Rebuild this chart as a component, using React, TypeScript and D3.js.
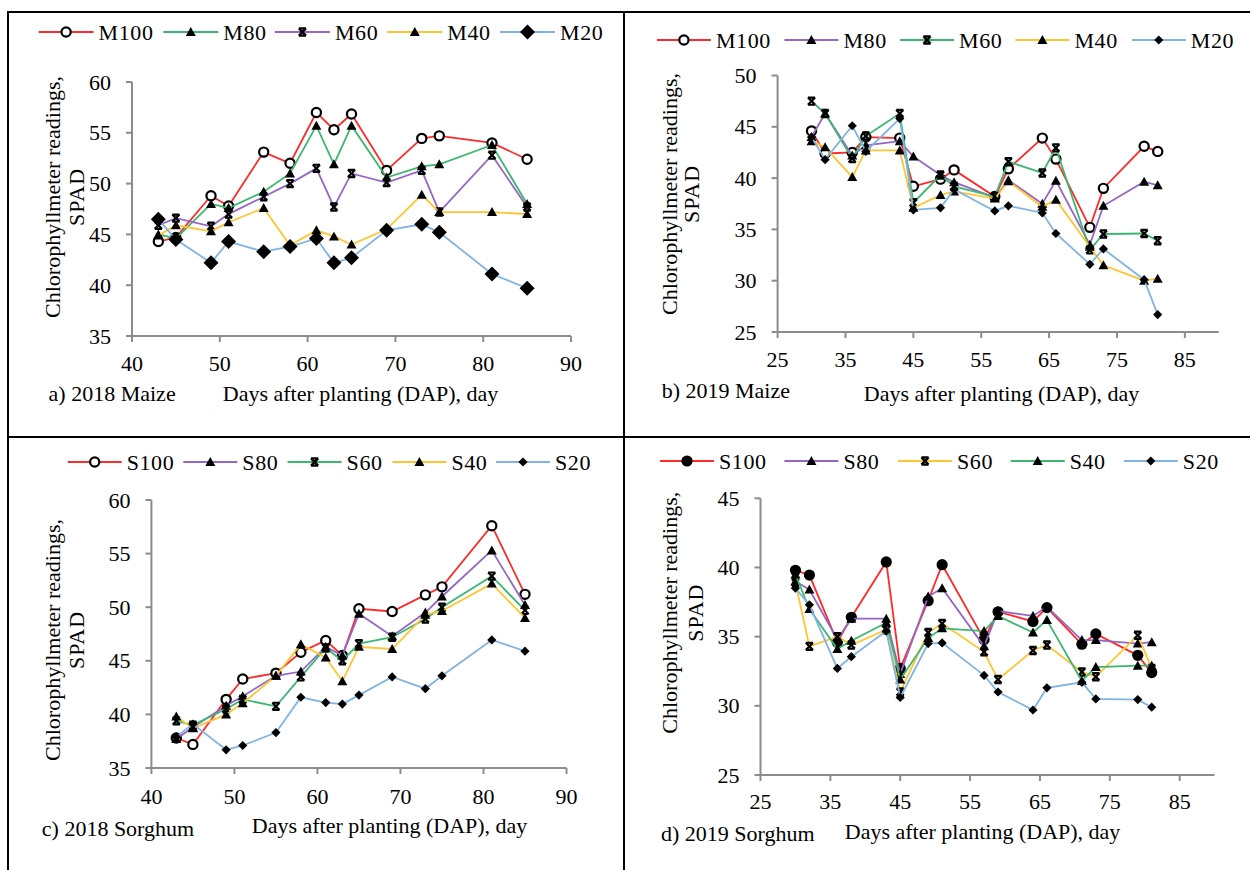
import React from "react";
import * as d3 from "d3";

// ---------- DATA ----------
const daysMaize2018 = [43, 45, 49, 51, 55, 58, 61, 63, 65, 69, 73, 75, 81, 85];
const M100_2018 = [44.3, 44.7, 48.8, 47.8, 53.1, 52.0, 57.0, 55.3, 56.85, 51.3, 54.45, 54.7, 54.0, 52.4];
const M80_2018 = [45.0, 44.6, 48.0, 47.6, 49.2, 51.0, 55.7, 51.9, 55.7, 50.6, 51.7, 51.9, 53.8, 48.0];
const M60_2018 = [45.9, 46.6, 45.8, 47.0, 48.7, 50.0, 51.5, 47.7, 51.0, 50.1, 51.3, 47.2, 52.8, 47.7];
const M40_2018 = [44.9, 45.9, 45.3, 46.2, 47.6, 43.9, 45.4, 44.8, 44.0, 45.5, 48.9, 47.2, 47.2, 47.0];
const M20_2018 = [46.5, 44.5, 42.2, 44.3, 43.3, 43.8, 44.6, 42.2, 42.7, 45.4, 46.0, 45.2, 41.1, 39.7];

const daysMaize2019 = [30, 32, 36, 38, 43, 45, 49, 51, 57, 59, 64, 66, 71, 73, 79, 81];
const M100_2019 = [44.6, 42.4, 42.5, 44.0, 43.9, 39.2, 39.9, 40.8, 38.2, 40.9, 43.9, 41.85, 35.2, 39.0, 43.1, 42.6];
const M80_2019 = [44.0, 46.3, 42.2, 43.2, 43.6, 42.1, 40.3, 39.6, 38.1, 39.8, 37.5, 39.75, 33.5, 37.3, 39.65, 39.3];
const M60_2019 = [47.5, 46.3, 41.9, 44.1, 46.3, 37.6, 40.3, 39.2, 38.2, 41.6, 40.5, 42.95, 33.0, 34.55, 34.6, 33.9];
const M40_2019 = [43.6, 43.0, 40.1, 42.7, 42.7, 37.1, 38.35, 38.7, 38.0, 39.7, 37.2, 37.9, 33.3, 31.5, 30.0, 30.2];
const M20_2019 = [44.0, 41.8, 45.1, 42.6, 45.8, 36.9, 37.1, 38.9, 36.8, 37.3, 36.6, 34.6, 31.6, 33.1, 30.1, 26.7];

const daysSorghum2018 = [43, 45, 49, 51, 55, 58, 61, 63, 65, 69, 73, 75, 81, 85];
const S100_2018 = [37.8, 37.2, 41.4, 43.3, 43.85, 45.8, 46.9, 45.5, 49.85, 49.6, 51.15, 51.9, 57.6, 51.2];
const S80_2018 = [37.7, 38.8, 40.8, 41.7, 43.6, 44.0, 46.3, 45.5, 49.4, 47.3, 49.5, 51.0, 55.3, 50.2];
const S60_2018 = [39.4, 39.0, 40.5, 41.4, 40.75, 43.5, 46.2, 45.0, 46.6, 47.2, 48.9, 50.0, 52.9, 49.7];
const S40_2018 = [39.8, 38.7, 40.0, 41.05, 43.6, 46.55, 45.3, 43.1, 46.3, 46.1, 49.3, 49.65, 52.2, 49.0];
const S20_2018 = [37.9, 39.1, 36.7, 37.1, 38.3, 41.6, 41.1, 40.96, 41.8, 43.5, 42.4, 43.6, 46.95, 45.9];

const daysSorghum2019 = [30, 32, 36, 38, 43, 45, 49, 51, 57, 59, 64, 66, 71, 73, 79, 81];
const S100_2019 = [39.8, 39.45, 34.6, 36.4, 40.4, 32.7, 37.6, 40.2, 34.8, 36.8, 36.1, 37.1, 34.45, 35.2, 33.65, 32.4];
const S80_2019 = [39.0, 38.4, 34.8, 36.3, 36.3, 32.3, 37.9, 38.5, 34.3, 36.85, 36.5, 37.15, 34.75, 34.75, 34.5, 34.6];
const S60_2019 = [38.9, 34.3, 35.0, 34.4, 35.5, 31.0, 35.3, 35.95, 33.9, 31.9, 34.0, 34.4, 32.45, 32.1, 35.1, 32.7];
const S40_2019 = [39.5, 37.0, 34.1, 34.7, 36.0, 31.9, 34.9, 35.6, 35.4, 36.5, 35.3, 36.2, 31.8, 32.8, 32.9, 32.9];
const S20_2019 = [38.5, 37.3, 32.7, 33.55, 35.4, 30.6, 34.5, 34.55, 32.2, 31.0, 29.7, 31.3, 31.7, 30.5, 30.45, 29.9];

const ticks4090 = [40, 50, 60, 70, 80, 90];
const ticks2585 = [25, 35, 45, 55, 65, 75, 85];
const yTicks3560 = [35, 40, 45, 50, 55, 60];
const yTicks2550 = [25, 30, 35, 40, 45, 50];
const yTicks2545 = [25, 30, 35, 40, 45];

const yTitle1 = "Chlorophyllmeter readings,";
const yTitle2 = "SPAD";
const xTitle = "Days after planting (DAP), day";

// ---------- STYLE ----------
const RED = "#ff2b2b";
const GREEN = "#3cb76f";
const PURPLE = "#9466c6";
const YELLOW = "#ffc431";
const BLUE = "#80b4e4";
const AXIS = "#8c8c8c";
const FONT = "'Liberation Serif', 'Times New Roman', serif";

type Marker = "circleOpen" | "circleFilled" | "triangle" | "x" | "diamond" | "diamondBig";
type Series = { name: string; values: number[]; color: string; marker: Marker };

type Panel = {
  days: number[];
  series: Series[];
  xDomain: [number, number];
  xRange: [number, number];
  xTicks: number[];
  yDomain: [number, number];
  yRange: [number, number];
  yTicks: number[];
  xTickLabelY: number;
  legendY: number;
  legendX: number[];
  legendLen: number;
  yTitleX: [number, number];
  yTitleCY: number;
  xTitleCX: number;
  xTitleCY: number;
  caption: string;
  captionX: number;
  captionCY: number;
};

const panels: Panel[] = [
  {
    days: daysMaize2018,
    series: [
      { name: "M100", values: M100_2018, color: RED, marker: "circleOpen" },
      { name: "M80", values: M80_2018, color: GREEN, marker: "triangle" },
      { name: "M60", values: M60_2018, color: PURPLE, marker: "x" },
      { name: "M40", values: M40_2018, color: YELLOW, marker: "triangle" },
      { name: "M20", values: M20_2018, color: BLUE, marker: "diamondBig" },
    ],
    xDomain: [40, 90], xRange: [132, 571], xTicks: ticks4090,
    yDomain: [35, 60], yRange: [336, 82], yTicks: yTicks3560,
    xTickLabelY: 363,
    legendY: 32, legendX: [38.6, 163.3, 274.9, 387.3, 500], legendLen: 55,
    yTitleX: [52, 76], yTitleCY: 197,
    xTitleCX: 360.6, xTitleCY: 393,
    caption: "a) 2018 Maize", captionX: 48.6, captionCY: 393,
  },
  {
    days: daysMaize2019,
    series: [
      { name: "M100", values: M100_2019, color: RED, marker: "circleOpen" },
      { name: "M80", values: M80_2019, color: PURPLE, marker: "triangle" },
      { name: "M60", values: M60_2019, color: GREEN, marker: "x" },
      { name: "M40", values: M40_2019, color: YELLOW, marker: "triangle" },
      { name: "M20", values: M20_2019, color: BLUE, marker: "diamond" },
    ],
    xDomain: [25, 90], xRange: [777.6, 1218.8], xTicks: ticks2585,
    yDomain: [25, 50], yRange: [332, 75.5], yTicks: yTicks2550,
    xTickLabelY: 359,
    legendY: 40, legendX: [656.9, 784.4, 900, 1015.4, 1131.8], legendLen: 54,
    yTitleX: [669, 691], yTitleCY: 194,
    xTitleCX: 1001.6, xTitleCY: 393,
    caption: "b) 2019 Maize", captionX: 661.7, captionCY: 390,
  },
  {
    days: daysSorghum2018,
    series: [
      { name: "S100", values: S100_2018, color: RED, marker: "circleOpen" },
      { name: "S80", values: S80_2018, color: PURPLE, marker: "triangle" },
      { name: "S60", values: S60_2018, color: GREEN, marker: "x" },
      { name: "S40", values: S40_2018, color: YELLOW, marker: "triangle" },
      { name: "S20", values: S20_2018, color: BLUE, marker: "diamond" },
    ],
    xDomain: [40, 90], xRange: [151.4, 566.5], xTicks: ticks4090,
    yDomain: [35, 60], yRange: [768, 500], yTicks: yTicks3560,
    xTickLabelY: 796.7,
    legendY: 462, legendX: [67.7, 183.3, 287.6, 392.4, 496], legendLen: 54,
    yTitleX: [52, 76], yTitleCY: 640,
    xTitleCX: 389.6, xTitleCY: 825,
    caption: "c) 2018 Sorghum", captionX: 41.8, captionCY: 828,
  },
  {
    days: daysSorghum2019,
    series: [
      { name: "S100", values: S100_2019, color: RED, marker: "circleFilled" },
      { name: "S80", values: S80_2019, color: PURPLE, marker: "triangle" },
      { name: "S60", values: S60_2019, color: YELLOW, marker: "x" },
      { name: "S40", values: S40_2019, color: GREEN, marker: "triangle" },
      { name: "S20", values: S20_2019, color: BLUE, marker: "diamond" },
    ],
    xDomain: [25, 90], xRange: [760.5, 1214.6], xTicks: ticks2585,
    yDomain: [25, 45], yRange: [775, 498.3], yTicks: yTicks2545,
    xTickLabelY: 801.7,
    legendY: 461, legendX: [660, 784.4, 898, 1010.7, 1123.8], legendLen: 54,
    yTitleX: [669, 695], yTitleCY: 612.7,
    xTitleCX: 982.6, xTitleCY: 831.7,
    caption: "d) 2019 Sorghum", captionX: 660.9, captionCY: 833,
  },
];

function MarkerShape({ type, x, y }: { type: Marker; x: number; y: number }) {
  switch (type) {
    case "circleOpen":
      return <circle cx={x} cy={y} r={4.6} fill="#fff" stroke="#000" strokeWidth={2.2} />;
    case "circleFilled":
      return <circle cx={x} cy={y} r={5.6} fill="#000" />;
    case "triangle": {
      const s = 5;
      return <path d={`M${x},${y - s}L${x + s},${y + s * 0.8}L${x - s},${y + s * 0.8}Z`} fill="#000" />;
    }
    case "x": {
      const s = 3.6;
      return (
        <path
          d={`M${x - s},${y - s}L${x + s},${y + s}M${x + s},${y - s}L${x - s},${y + s}M${x - s},${y - s}L${x + s},${y - s}M${x - s},${y + s}L${x + s},${y + s}`}
          stroke="#000"
          strokeWidth={2.2}
          fill="none"
        />
      );
    }
    case "diamond": {
      const s = 4.6;
      return <path d={`M${x},${y - s}L${x + s},${y}L${x},${y + s}L${x - s},${y}Z`} fill="#000" />;
    }
    case "diamondBig": {
      const s = 7.5;
      return <path d={`M${x},${y - s}L${x + s},${y}L${x},${y + s}L${x - s},${y}Z`} fill="#000" />;
    }
  }
  return null;
}

function PanelView({ p }: { p: Panel }) {
  const x = d3.scaleLinear().domain(p.xDomain).range(p.xRange);
  const y = d3.scaleLinear().domain(p.yDomain).range(p.yRange);
  const line = d3
    .line<[number, number]>()
    .x((d) => x(d[0]))
    .y((d) => y(d[1]));
  const xAxisY = p.yRange[0];
  const yAxisX = p.xRange[0];

  return (
    <g>
      {/* axes */}
      <line x1={yAxisX} x2={yAxisX} y1={y(p.yDomain[1])} y2={xAxisY} stroke={AXIS} strokeWidth={2} />
      <line x1={yAxisX} x2={p.xRange[1]} y1={xAxisY} y2={xAxisY} stroke={AXIS} strokeWidth={2} />
      {p.yTicks.map((t) => (
        <g key={"y" + t}>
          <line x1={yAxisX - 6} x2={yAxisX} y1={y(t)} y2={y(t)} stroke={AXIS} strokeWidth={2} />
          <text x={yAxisX - 21} y={y(t)} textAnchor="end" dominantBaseline="central" fontSize={22} fontFamily={FONT} fill="#000">
            {t}
          </text>
        </g>
      ))}
      {p.xTicks.map((t) => (
        <g key={"x" + t}>
          <line x1={x(t)} x2={x(t)} y1={xAxisY} y2={xAxisY + 6} stroke={AXIS} strokeWidth={2} />
          <text x={x(t)} y={p.xTickLabelY} textAnchor="middle" dominantBaseline="central" fontSize={22} fontFamily={FONT} fill="#000">
            {t}
          </text>
        </g>
      ))}
      {/* series */}
      {p.series.map((s) => {
        const pts = p.days.map((d, i) => [d, s.values[i]] as [number, number]);
        return (
          <g key={s.name}>
            <path d={line(pts) || ""} fill="none" stroke={s.color} strokeWidth={1.8} />
            {pts.map((pt, i) => (
              <MarkerShape key={i} type={s.marker} x={x(pt[0])} y={y(pt[1])} />
            ))}
          </g>
        );
      })}
      {/* legend */}
      {p.series.map((s, i) => {
        const lx = p.legendX[i];
        return (
          <g key={"lg" + s.name}>
            <line x1={lx} x2={lx + p.legendLen} y1={p.legendY} y2={p.legendY} stroke={s.color} strokeWidth={1.8} />
            <MarkerShape type={s.marker === "diamondBig" ? "diamondBig" : s.marker} x={lx + p.legendLen / 2} y={p.legendY} />
            <text
              x={lx + p.legendLen + 5}
              y={p.legendY}
              dominantBaseline="central"
              fontSize={22}
              letterSpacing={0.6}
              fontFamily={FONT}
              fill="#000"
            >
              {s.name}
            </text>
          </g>
        );
      })}
      {/* titles */}
      <text
        transform={`translate(${p.yTitleX[0]},${p.yTitleCY}) rotate(-90)`}
        textAnchor="middle"
        dominantBaseline="central"
        fontSize={22}
        fontFamily={FONT}
        fill="#000"
      >
        {yTitle1}
      </text>
      <text
        transform={`translate(${p.yTitleX[1]},${p.yTitleCY}) rotate(-90)`}
        textAnchor="middle"
        dominantBaseline="central"
        fontSize={22}
        letterSpacing={1}
        fontFamily={FONT}
        fill="#000"
      >
        {yTitle2}
      </text>
      <text x={p.xTitleCX} y={p.xTitleCY} textAnchor="middle" dominantBaseline="central" fontSize={22} fontFamily={FONT} fill="#000">
        {xTitle}
      </text>
      <text x={p.captionX} y={p.captionCY} dominantBaseline="central" fontSize={22} fontFamily={FONT} fill="#000">
        {p.caption}
      </text>
    </g>
  );
}

export default function App() {
  return (
    <div style={{ position: "fixed", left: 0, top: 0 }}>
      <svg width={1250} height={870} style={{ display: "block", background: "#fff" }}>
        <rect x={0} y={0} width={1250} height={870} fill="#fff" />
        {/* frame lines */}
        <line x1={7} x2={1250} y1={12} y2={12} stroke="#000" strokeWidth={2} />
        <line x1={8} x2={8} y1={12} y2={870} stroke="#000" strokeWidth={2} />
        <line x1={624} x2={624} y1={12} y2={870} stroke="#000" strokeWidth={2} />
        <line x1={7} x2={1250} y1={437} y2={437} stroke="#000" strokeWidth={2} />
        {panels.map((p, i) => (
          <PanelView key={i} p={p} />
        ))}
      </svg>
    </div>
  );
}
